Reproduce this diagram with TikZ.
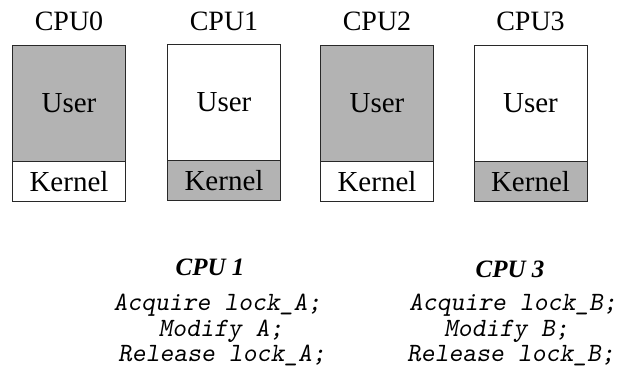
\documentclass[tikz,border=0pt]{standalone}
\usepackage{fontspec}
\setmainfont{Liberation Serif}
\definecolor{shade}{RGB}{179,179,179}
\definecolor{edge}{RGB}{40,40,40}
\begin{document}
\begin{tikzpicture}[x=1pt,y=-1pt,
  cpulabel/.style={anchor=base,font=\fontsize{28}{30}\selectfont},
  ubox/.style={draw=edge,line width=1pt,minimum width=113pt,minimum height=116pt,inner sep=0pt,font=\fontsize{29}{30}\selectfont},
  kbox/.style={draw=edge,line width=1pt,minimum width=113pt,minimum height=40pt,inner sep=0pt,font=\fontsize{29}{30}\selectfont},
  title/.style={anchor=base,font=\fontsize{25}{26}\selectfont\bfseries\itshape},
  code/.style={anchor=base,font=\fontsize{26.4}{28}\selectfont\ttfamily\slshape}]
\useasboundingbox (0,0) rectangle (635,374);
% CPU0
\node[cpulabel] (c0) at (69,30.5) {CPU0};
\node[ubox,fill=shade] (u0) at (69,103.5) {User};
\node[kbox,fill=white] (k0) at (69,182) {Kernel};
% CPU1
\node[cpulabel] (c1) at (224,30.5) {CPU1};
\node[ubox,fill=white] (u1) at (224,102.5) {User};
\node[kbox,fill=shade] (k1) at (224,180.5) {Kernel};
% CPU2
\node[cpulabel] (c2) at (377,30.5) {CPU2};
\node[ubox,fill=shade] (u2) at (377,103.5) {User};
\node[kbox,fill=white] (k2) at (377,182) {Kernel};
% CPU3
\node[cpulabel] (c3) at (530.5,30.5) {CPU3};
\node[ubox,fill=white] (u3) at (530.5,103.5) {User};
\node[kbox,fill=shade] (k3) at (530.5,182) {Kernel};
% code
\node[title] (t1) at (210,276) {CPU 1};
\node[code] (a1) at (217.5,310) {Acquire lock\_A;};
\node[code] (m1) at (221,336) {Modify A;};
\node[code] (r1) at (222,361.5) {Release lock\_A;};
\node[title] (t3) at (510,278) {CPU 3};
\node[code] (a3) at (513,310) {Acquire lock\_B;};
\node[code] (m3) at (506.5,336) {Modify B;};
\node[code] (r3) at (511,361.5) {Release lock\_B;};
\end{tikzpicture}
\end{document}
